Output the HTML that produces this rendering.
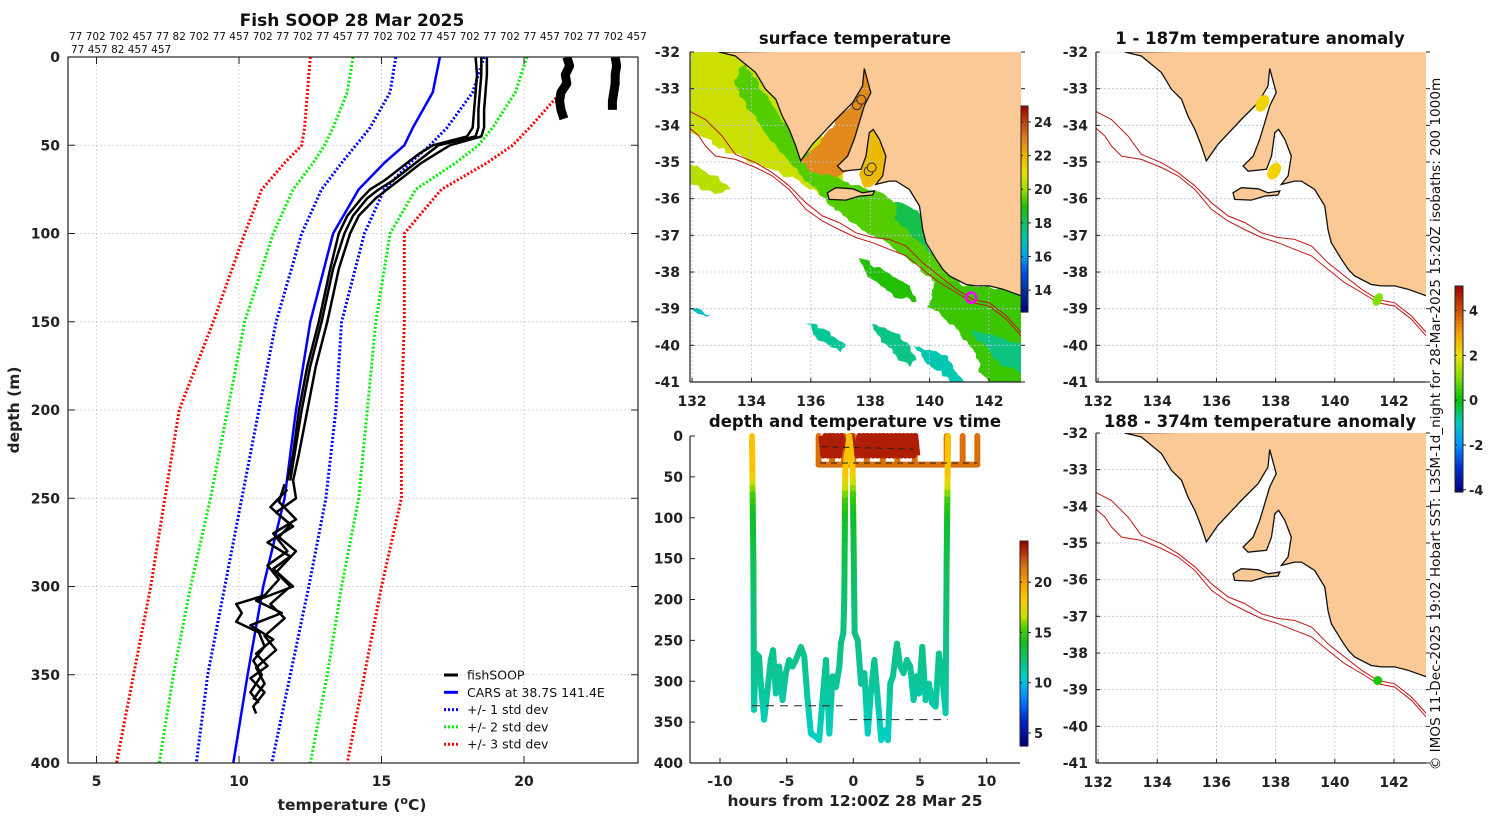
<!DOCTYPE html>
<html><head><meta charset="utf-8"><title>Fish SOOP 28 Mar 2025</title>
<style>
html,body{margin:0;padding:0;background:#fff;}
svg{display:block;font-family:"DejaVu Sans","Liberation Sans",sans-serif;}
</style></head>
<body>
<svg id="fig" width="1500" height="820" viewBox="0 0 1500 820" xmlns="http://www.w3.org/2000/svg">
<defs>
<filter id="rough" x="-10%" y="-10%" width="120%" height="120%">
<feTurbulence type="fractalNoise" baseFrequency="0.09" numOctaves="2" seed="3" result="n"/>
<feDisplacementMap in="SourceGraphic" in2="n" scale="10" xChannelSelector="R" yChannelSelector="G"/>
</filter>
<clipPath id="cpProf"><rect x="68" y="57" width="570" height="706"/></clipPath>
<clipPath id="cpTime"><rect x="690" y="430" width="330" height="333"/></clipPath>
<clipPath id="cpM1"><rect x="690" y="52" width="331" height="330"/></clipPath>
<clipPath id="cpM2"><rect x="1096" y="52" width="330" height="330"/></clipPath>
<clipPath id="cpM3"><rect x="1096" y="433" width="330" height="330"/></clipPath>
</defs>
</svg>
<script>
// ---------------- DATA ----------------
const carsDepth = [0,20,40,50,60,75,100,150,200,250,300,350,400];
const carsMean  = [17.05,16.8,16.1,15.8,15.1,14.2,13.3,12.5,12.0,11.6,10.85,10.3,9.8];
const std1Lo = [15.5,15.3,14.6,14.1,13.6,12.9,12.2,11.3,10.7,10.1,9.5,8.9,8.5];
const std1Hi = [18.6,18.2,17.3,16.7,16.0,15.1,14.4,13.6,13.4,13.05,12.45,11.8,11.15];
const std2Lo = [14.0,13.8,13.3,13.0,12.6,11.9,11.2,10.2,9.6,9.0,8.3,7.7,7.2];
const std2Hi = [20.1,19.7,18.9,18.4,17.6,16.2,15.3,14.8,14.5,14.2,13.6,13.1,12.5];
const std3Lo = [12.5,12.4,12.3,12.2,11.6,10.8,10.2,9.1,7.9,7.4,6.9,6.3,5.7];
const std3Hi = [21.6,21.3,20.2,19.6,18.7,17.1,15.8,15.8,15.7,15.7,15.0,14.4,13.8];
const fishDepth = [0,10,20,30,40,45,50,55,60,65,70,75,80,90,100,120,150,175,200,225,240];
const fishP1 = [18.7,18.7,18.65,18.6,18.6,18.5,17.4,16.9,16.4,16.0,15.6,15.2,14.8,14.2,13.9,13.5,13.1,12.7,12.4,12.1,11.9];
const fishP2 = [18.5,18.5,18.45,18.4,18.4,18.3,17.0,16.6,16.2,15.8,15.4,14.9,14.5,14.0,13.7,13.3,12.9,12.5,12.2,11.95,11.8];
const fishP3 = [18.3,18.35,18.3,18.25,18.2,18.0,16.8,16.3,15.9,15.5,15.1,14.6,14.3,13.8,13.5,13.2,12.8,12.4,12.1,11.9,11.7];
const zigDepthA = [240,250,258,266,275,283,290,300,308,315,322,330,338,345,352,360,368,372];
const zigTempA  = [11.9,12.0,11.3,11.9,11.0,11.8,11.2,11.9,10.6,11.5,10.4,11.2,10.6,11.0,10.4,10.9,10.5,10.6];
const zigDepthB = [242,252,262,270,280,288,296,305,310,315,320,326,334,342,350,360,366];
const zigTempB  = [11.6,11.4,12.0,11.2,11.7,11.0,11.4,10.9,9.9,10.1,9.9,10.7,10.9,10.5,10.8,10.4,10.7];
const zigDepthC = [245,255,265,272,280,292,300,310,318,328,336,346,355,364];
const zigTempC  = [11.7,11.1,11.8,11.4,12.0,11.3,11.8,11.1,11.6,10.9,11.3,10.6,10.9,10.5];
const shallowDepth = [0,5,10,15,20,25,30,35];
const shallowTempA = [21.5,21.6,21.45,21.5,21.3,21.25,21.3,21.4];
const shallowTempB = [23.2,23.25,23.2,23.2,23.15,23.1,23.1,23.1];
const deepHours = [-7.6,-7.5,-7.45,-7.32,-7.07,-6.94,-6.69,-6.44,-6.19,-6.02,-5.81,-5.56,-5.31,-5.06,-4.81,-4.56,-4.31,-3.93,-3.68,-3.43,-3.18,-2.81,-2.56,-2.31,-2.05,-1.8,-1.55,-1.3,-1.05,-0.93,-0.75,-0.68,-0.6,-0.3,-0.05,0.1,0.33,0.58,0.83,1.08,1.33,1.58,1.84,2.09,2.34,2.59,2.77,2.97,3.27,3.52,3.77,4.02,4.27,4.52,4.72,4.92,5.17,5.42,5.67,5.92,6.17,6.42,6.72,6.92,7.0,7.1];
const deepDepth = [0,150,335,266,270,303,347,311,274,262,315,282,323,290,274,282,274,258,270,323,364,368,372,323,274,364,294,307,282,254,241,200,40,0,40,241,250,303,290,364,311,274,323,372,360,372,303,294,254,282,290,274,282,323,294,315,258,323,303,327,331,266,303,339,150,0];
const castHours = [-2.6,-1.6,-0.7,0.0,1.0,2.2,3.3,4.6,7.0,8.2,9.3];
const castBottom = 35;
const redHours = [-2.4,-2.25,-2.1,-1.95,-1.8,-1.65,-1.5,-1.35,-1.2,-1.05,-0.9,-0.3,-0.15,0.3,0.45,0.6,0.75,0.9,1.05,1.2,1.35,1.5,1.65,1.8,1.95,2.1,2.25,2.4,2.55,2.7,2.85,3.0,3.15,3.3,3.45,3.6,3.75,3.9,4.05,4.2,4.35,4.5,4.65,4.8];
const redDepth = [0,24,0,24,0,24,0,24,0,24,0,24,0,24,0,24,0,24,0,24,0,24,0,24,0,24,0,24,0,24,0,24,0,24,0,24,0,24,0,24,0,24,0,24];
const colourDepth = [0,45,75,100,150,200,250,300,350,380];
const colourTemp  = [18.6,18.4,15.1,13.8,13.0,12.3,11.9,11.5,10.8,10.4];
const profXTicks = [5,10,15,20];
const profYTicks = [0,50,100,150,200,250,300,350,400];
const timeXTicks = [-10,-5,0,5,10];
const lonTicks = [132,134,136,138,140,142];
const latTicks = [-32,-33,-34,-35,-36,-37,-38,-39,-40,-41];
const coastLon = [132.9,133.46,134.14,134.48,134.82,135.04,135.27,135.49,135.66,136.05,136.84,137.41,137.74,137.80,138.02,137.80,137.63,137.46,137.24,136.90,137.07,137.69,137.86,137.97,138.10,138.31,138.53,138.42,138.19,138.64,138.87,139.32,139.66,139.77,139.88,140.22,140.45,140.67,141.23,141.57,142.02,142.47,143.09,143.2,143.2];
const coastLat = [-32.0,-32.11,-32.56,-33.02,-33.29,-33.75,-34.11,-34.56,-34.97,-34.52,-33.84,-33.38,-32.93,-32.45,-33.11,-33.47,-33.93,-34.38,-34.84,-35.11,-35.25,-35.20,-34.84,-34.20,-34.11,-34.38,-34.84,-35.38,-35.61,-35.52,-35.52,-35.75,-36.20,-36.84,-37.20,-37.65,-37.93,-38.11,-38.34,-38.38,-38.38,-38.47,-38.65,-38.65,-31.9];
const kiLon = [136.56,136.84,137.41,137.74,138.14,138.08,137.63,137.18,136.62];
const kiLat = [-35.84,-35.70,-35.73,-35.84,-35.79,-35.90,-35.93,-36.04,-36.02];
const iso200Lon = [131.9,132.45,133.01,133.46,134.14,134.70,135.27,135.83,136.39,136.95,137.52,138.08,138.64,139.21,139.77,140.33,140.90,141.46,142.02,142.59,143.09];
const iso200Lat = [-33.61,-33.84,-34.29,-34.79,-35.02,-35.29,-35.65,-36.11,-36.47,-36.65,-36.93,-37.06,-37.11,-37.29,-37.75,-38.11,-38.47,-38.75,-38.84,-39.20,-39.65];
const iso1000Lon = [131.9,132.23,132.45,132.79,133.46,134.14,134.70,135.27,135.83,136.39,136.95,137.52,138.08,138.64,139.21,139.77,140.33,140.90,141.46,142.02,142.59,143.09];
const iso1000Lat = [-34.06,-34.29,-34.56,-34.84,-34.93,-35.15,-35.38,-35.75,-36.29,-36.61,-36.84,-37.06,-37.20,-37.38,-37.56,-37.93,-38.29,-38.56,-38.84,-38.93,-39.29,-39.75];
const tStops = [[4,'#00007f'],[6,'#0020c0'],[8,'#0070ff'],[9.5,'#00b0f0'],[10.5,'#00d0c8'],[12,'#10c080'],[14,'#10c020'],[15.5,'#50d000'],[16.5,'#c0e000'],[18,'#f8d000'],[20,'#f8a000'],[22,'#d06010'],[24,'#a00000']];
const sstStops = [[12.7,'#00007f'],[14,'#0030a0'],[15,'#0050e0'],[16,'#00a0f0'],[17,'#00c8b0'],[18,'#10c060'],[19,'#20c000'],[20,'#a0e000'],[21,'#e8e000'],[22,'#f0b000'],[23,'#e08020'],[24,'#c04010'],[25,'#a00000']];
const anoStops = [[-4.1,'#00007f'],[-3,'#0030d0'],[-2,'#0090ff'],[-1,'#00c8c0'],[0,'#00c000'],[1,'#80e000'],[2,'#f0e000'],[3,'#f0a000'],[4,'#d05000'],[5.1,'#a00000']];

// ---------------- HELPERS ----------------
const NS='http://www.w3.org/2000/svg';
const svg=document.getElementById('fig');
function mk(tag,attrs,parent){const e=document.createElementNS(NS,tag);for(const k in attrs)e.setAttribute(k,attrs[k]);(parent||svg).appendChild(e);return e;}
function txt(x,y,s,attrs,parent){const e=mk('text',Object.assign({x:x,y:y,fill:'#222'},attrs||{}),parent);e.textContent=s;return e;}
function interp(xs,ys,v){if(v<=xs[0])return ys[0];for(let i=1;i<xs.length;i++){if(v<=xs[i]){const f=(v-xs[i-1])/(xs[i]-xs[i-1]);return ys[i-1]+f*(ys[i]-ys[i-1]);}}return ys[ys.length-1];}
function hex2rgb(h){return [parseInt(h.substr(1,2),16),parseInt(h.substr(3,2),16),parseInt(h.substr(5,2),16)];}
function cmap(stops,v){if(v<=stops[0][0])return stops[0][1];for(let i=1;i<stops.length;i++){if(v<=stops[i][0]){const f=(v-stops[i-1][0])/(stops[i][0]-stops[i-1][0]);const a=hex2rgb(stops[i-1][1]),b=hex2rgb(stops[i][1]);return 'rgb('+a.map((c,j)=>Math.round(c+f*(b[j]-c))).join(',')+')';}}return stops[stops.length-1][1];}
function pts(xs,ys,fx,fy){return xs.map((v,i)=>fx(v).toFixed(1)+','+fy(ys[i]).toFixed(1)).join(' ');}
function colorbar(x,y,w,h,stops,vmin,vmax,ticks,name){
  const g=mk('g',{});
  
  
  const n=60;
  for(let i=0;i<n;i++){const v=vmax-(i+0.5)/n*(vmax-vmin);mk('rect',{x:x,y:(y+i*h/n).toFixed(2),width:w,height:(h/n+0.6).toFixed(2),fill:cmap(stops,v)},g);}
  mk('rect',{x:x,y:y,width:w,height:h,fill:'none',stroke:'#222','stroke-width':1},g);
  ticks.forEach(t=>{const ty=y+(vmax-t)/(vmax-vmin)*h;mk('line',{x1:x+w,x2:x+w+3,y1:ty,y2:ty,stroke:'#222'},g);mk('line',{x1:x,x2:x+2,y1:ty,y2:ty,stroke:'#222'},g);txt(x+w+6,ty+5,String(t),{'font-size':13,'font-weight':'bold'},g);});
}

// ---------------- LEFT PROFILE PLOT ----------------
const PX0=68,PX1=638,PY0=57,PY1=763;
const px=t=>PX0+(t-4)/(24-4)*(PX1-PX0);
const py=d=>PY0+d/400*(PY1-PY0);
txt(352,26,'Fish SOOP 28 Mar 2025',{'font-size':17,'font-weight':'bold','text-anchor':'middle',fill:'#111',});
txt(69,40,'77 702 702 457 77 82 702 77 457 702 77 702 77 457 77 702 702 77 457 702 77 702 77 457 702 77 702 457',{'font-size':10.5,fill:'#111',});
txt(71,53,'77 457 82 457 457',{'font-size':10.5,fill:'#111',});
const gp=mk('g',{});


profXTicks.forEach(t=>{mk('line',{x1:px(t),x2:px(t),y1:PY0,y2:PY1,stroke:'#e8c8c0','stroke-width':0.8,'stroke-dasharray':'2,2'},gp);});
profYTicks.forEach(d=>{mk('line',{x1:PX0,x2:PX1,y1:py(d),y2:py(d),stroke:'#c8cce8','stroke-width':0.8,'stroke-dasharray':'2,2'},gp);});
const gpl=mk('g',{'clip-path':'url(#cpProf)'},gp);
function dotted(lo,col,name){const e=mk('polyline',{points:pts(lo,carsDepth,px,py),fill:'none',stroke:col,'stroke-width':3,'stroke-dasharray':'2,2'},gpl);}
dotted(std3Lo,'#ff0000','std3-low');dotted(std3Hi,'#ff0000','std3-high');
dotted(std2Lo,'#00ee00','std2-low');dotted(std2Hi,'#00ee00','std2-high');
dotted(std1Lo,'#0000ff','std1-low');dotted(std1Hi,'#0000ff','std1-high');
const cars=mk('polyline',{points:pts(carsMean,carsDepth,px,py),fill:'none',stroke:'#0000ff','stroke-width':2.5},gpl);


[fishP1,fishP2,fishP3].forEach((p,i)=>{const e=mk('polyline',{points:pts(p,fishDepth,px,py),fill:'none',stroke:'#000','stroke-width':2.5,'stroke-linejoin':'round'},gpl);});
[[zigTempA,zigDepthA],[zigTempB,zigDepthB],[zigTempC,zigDepthC]].forEach((z,i)=>{const e=mk('polyline',{points:pts(z[0],z[1],px,py),fill:'none',stroke:'#000','stroke-width':2.5,'stroke-linejoin':'round'},gpl);});
const sA=mk('polyline',{points:pts(shallowTempA,shallowDepth,px,py),fill:'none',stroke:'#000','stroke-width':9,'stroke-linejoin':'round'},gpl);


const sB=mk('polyline',{points:pts(shallowTempB,shallowDepth.slice(0,7),px,py),fill:'none',stroke:'#000','stroke-width':9,'stroke-linejoin':'round'},gpl);


mk('rect',{x:PX0,y:PY0,width:PX1-PX0,height:PY1-PY0,fill:'none',stroke:'#222','stroke-width':1.2},gp);
profXTicks.forEach(t=>{mk('line',{x1:px(t),x2:px(t),y1:PY1,y2:PY1-7,stroke:'#222'},gp);mk('line',{x1:px(t),x2:px(t),y1:PY0,y2:PY0+7,stroke:'#222'},gp);txt(px(t),786,String(t),{'font-size':14,'font-weight':'bold','text-anchor':'middle'},gp);});
profYTicks.forEach(d=>{mk('line',{x1:PX0,x2:PX0+7,y1:py(d),y2:py(d),stroke:'#222'},gp);mk('line',{x1:PX1,x2:PX1-7,y1:py(d),y2:py(d),stroke:'#222'},gp);txt(60,py(d)+5,String(d),{'font-size':14,'font-weight':'bold','text-anchor':'end'},gp);});
const xl=mk('text',{x:352,y:810,'font-size':15.5,'font-weight':'bold','text-anchor':'middle',fill:'#222',});
const ts1=mk('tspan',{},xl);ts1.textContent='temperature (';
const ts2=mk('tspan',{dy:-6,'font-size':11},xl);ts2.textContent='o';
const ts3=mk('tspan',{dy:6},xl);ts3.textContent='C)';
txt(19,410,'depth (m)',{'font-size':15.5,'font-weight':'bold','text-anchor':'middle',transform:'rotate(-90 19 410)',});
const leg=mk('g',{});


const legItems=[['fishSOOP','#000',''],['CARS at 38.7S 141.4E','#0000ff',''],['+/- 1 std dev','#0000ff','2,2'],['+/- 2 std dev','#00ee00','2,2'],['+/- 3 std dev','#ff0000','2,2']];
legItems.forEach((it,i)=>{const y=675+i*17.3;const ge=mk('g',{},leg);const a={x1:444,x2:458,y1:y,y2:y,stroke:it[1],'stroke-width':3};if(it[2])a['stroke-dasharray']=it[2];mk('line',a,ge);txt(467,y+4.5,it[0],{'font-size':12.5,fill:'#111'},ge);});

// ---------------- TIME PLOT ----------------
const TX0=690,TX1=1020,TY0=436,TY1=763;
const tx=h=>TX0+(h+12.25)/(12.5+12.25)*(TX1-TX0);
const ty=d=>TY0+d/400*(TY1-TY0);
txt(855,427,'depth and temperature vs time',{'font-size':16.5,'font-weight':'bold','text-anchor':'middle',fill:'#111',});
const gt=mk('g',{});


const gtl=mk('g',{'clip-path':'url(#cpTime)'},gt);
castHours.forEach(h=>{const e=mk('line',{x1:tx(h),x2:tx(h),y1:ty(0),y2:ty(castBottom),stroke:cmap(tStops,21.5),'stroke-width':6,'stroke-linecap':'round'},gtl);});
mk('line',{x1:tx(castHours[0]),x2:tx(castHours[castHours.length-1]),y1:ty(castBottom),y2:ty(castBottom),stroke:cmap(tStops,21.5),'stroke-width':6,'stroke-linecap':'round'},gtl);
const rp=mk('polyline',{points:pts(redHours,redDepth,tx,ty),fill:'none',stroke:cmap(tStops,23.4),'stroke-width':6,'stroke-linejoin':'round'},gtl);


for(let i=1;i<deepHours.length;i++){
  const d0=deepDepth[i-1],d1=deepDepth[i],h0=deepHours[i-1],h1=deepHours[i];
  const steps=Math.max(1,Math.ceil(Math.abs(d1-d0)/8));
  for(let s=0;s<steps;s++){
    const fa=s/steps,fb=(s+1)/steps;
    const da=d0+fa*(d1-d0),db=d0+fb*(d1-d0);
    const e=mk('line',{x1:tx(h0+fa*(h1-h0)),y1:ty(da),x2:tx(h0+fb*(h1-h0)),y2:ty(db),stroke:cmap(tStops,interp(colourDepth,colourTemp,(da+db)/2)),'stroke-width':6,'stroke-linecap':'round'},gtl);
    
    
  }
}
mk('line',{x1:tx(-7.6),x2:tx(-0.8),y1:ty(330),y2:ty(330),stroke:'#222','stroke-dasharray':'8,6','stroke-width':1},gtl);
mk('line',{x1:tx(-0.3),x2:tx(7.1),y1:ty(347),y2:ty(347),stroke:'#222','stroke-dasharray':'8,6','stroke-width':1},gtl);
mk('line',{x1:tx(-2.4),x2:tx(4.5),y1:ty(13),y2:ty(16),stroke:'#222','stroke-dasharray':'6,5','stroke-width':1},gtl);
mk('line',{x1:tx(-2.5),x2:tx(9.3),y1:ty(33),y2:ty(33),stroke:'#222','stroke-dasharray':'6,5','stroke-width':1},gtl);
mk('line',{x1:TX0,x2:TX0,y1:TY0,y2:TY1,stroke:'#222','stroke-width':1.2},gt);
mk('line',{x1:TX0,x2:TX1,y1:TY1,y2:TY1,stroke:'#222','stroke-width':1.2},gt);
timeXTicks.forEach(h=>{mk('line',{x1:tx(h),x2:tx(h),y1:TY1,y2:TY1-5,stroke:'#222'},gt);txt(tx(h),786,String(h),{'font-size':14,'font-weight':'bold','text-anchor':'middle'},gt);});
profYTicks.forEach(d=>{mk('line',{x1:TX0,x2:TX0+5,y1:ty(d),y2:ty(d),stroke:'#222'},gt);txt(683,ty(d)+5,String(d),{'font-size':14,'font-weight':'bold','text-anchor':'end'},gt);});
txt(855,806,'hours from 12:00Z 28 Mar 25',{'font-size':15.5,'font-weight':'bold','text-anchor':'middle',});
colorbar(1020,541,8,205,tStops,3.7,24.1,[5,10,15,20],'time-colorbar');

// ---------------- MAPS ----------------
function drawMap(X0,Y0,X1,Y1,clip,name,drawField,labelX){
  const mx=lon=>X0+(lon-131.93)/(143.08-131.93)*(X1-X0);
  const my=lat=>Y0+(-32-lat)/9*(Y1-Y0);
  const g=mk('g',{});
  
  
  const gi=mk('g',{'clip-path':'url(#'+clip+')'},g);
  if(drawField)drawField(gi,mx,my);
  lonTicks.forEach(l=>mk('line',{x1:mx(l),x2:mx(l),y1:Y0,y2:Y1,stroke:'#b8c0e0','stroke-width':0.8,'stroke-dasharray':'2,2'},gi));
  latTicks.forEach(l=>mk('line',{x1:X0,x2:X1,y1:my(l),y2:my(l),stroke:'#b8c0e0','stroke-width':0.8,'stroke-dasharray':'2,2'},gi));
  const land=mk('polygon',{points:pts(coastLon,coastLat,mx,my),fill:'#fbc995',stroke:'#111','stroke-width':1.3},gi);
  
  
  const ki=mk('polygon',{points:pts(kiLon,kiLat,mx,my),fill:'#fbc995',stroke:'#111','stroke-width':1.3},gi);
  
  
  const i2=mk('polyline',{points:pts(iso200Lon,iso200Lat,mx,my),fill:'none',stroke:'#c01818','stroke-width':1},gi);
  
  
  const i1=mk('polyline',{points:pts(iso1000Lon,iso1000Lat,mx,my),fill:'none',stroke:'#c01818','stroke-width':1},gi);
  
  
  mk('line',{x1:X0,x2:X0,y1:Y0,y2:Y1,stroke:'#222','stroke-width':1.2},g);
  mk('line',{x1:X0,x2:X1,y1:Y1,y2:Y1,stroke:'#222','stroke-width':1.2},g);
  lonTicks.forEach(l=>{mk('line',{x1:mx(l),x2:mx(l),y1:Y1,y2:Y1-4,stroke:'#222'},g);txt(mx(l),Y1+24,String(l),{'font-size':14,'font-weight':'bold','text-anchor':'middle'},g);});
  latTicks.forEach(l=>{mk('line',{x1:X0,x2:X0+4,y1:my(l),y2:my(l),stroke:'#222'},g);mk('line',{x1:X1,x2:X1+4,y1:my(l),y2:my(l),stroke:'#222'},g);txt(labelX,my(l)+5,String(l),{'font-size':14,'font-weight':'bold','text-anchor':'end'},g);});
  return {mx:mx,my:my,g:g};
}
const sstPatches=[
 {t:20.6,lon:[131.9,135,136.5,137.3,137.5,136.5,135.5,134,133,131.9],lat:[-31.9,-31.9,-34.5,-35.8,-36.2,-36.0,-35.5,-35.0,-34.6,-34.2]},
 {t:20.3,lon:[131.9,132.6,133.3,132.8,131.9],lat:[-35.0,-35.3,-35.7,-35.9,-35.6]},
 {t:19.4,lon:[133.8,135.3,136,137,138.5,139.7,139.9,140.5,141,140.3,139.2,138.6,137.6,136.8,136.2,135.5,134.6,133.8,133.4],lat:[-32.3,-34.2,-34.9,-35.5,-35.9,-36.4,-37.3,-37.9,-38.3,-38.3,-37.6,-37.2,-36.8,-36.3,-35.8,-35.2,-34.4,-33.4,-32.7]},
 {t:18.2,lon:[138.8,139.8,139.9,140.2,139.4,138.9],lat:[-36.0,-36.4,-37.2,-37.6,-37.0,-36.6]},
 {t:22.8,lon:[135.7,136.2,137,137.6,137.8,138.1,137.7,137.4,136.9,136],lat:[-35.0,-34.5,-33.8,-33.2,-32.4,-33.2,-34.3,-35.0,-35.4,-35.3]},
 {t:21.8,lon:[137.6,137.9,138.1,138.6,138.5,137.8],lat:[-35.3,-34.3,-34.0,-34.8,-35.5,-35.7]},
 {t:19.2,lon:[140.2,141.2,143.2,143.2,142,141.5,140.8,140.0],lat:[-38.2,-38.35,-38.5,-41.1,-41.1,-40.2,-39.5,-38.9]},
 {t:19.0,lon:[137.6,138.3,139.3,139.6,138.9,138.0],lat:[-37.6,-37.9,-38.4,-38.8,-38.7,-38.2]},
 {t:17.3,lon:[135.8,136.6,137.2,137.0,136.3],lat:[-39.4,-39.6,-40.0,-40.2,-39.8]},
 {t:17.5,lon:[138.0,139.0,139.6,139.3,138.5],lat:[-39.4,-39.7,-40.4,-40.6,-40.0]},
 {t:17.0,lon:[139.5,140.6,141.2,141.0,140.0],lat:[-40.0,-40.3,-41.1,-41.1,-40.6]},
 {t:17.6,lon:[141.4,142.4,143.2,143.2,142.2],lat:[-39.6,-39.8,-40.0,-40.8,-40.4]},
 {t:16.8,lon:[131.9,132.3,132.6,132.2],lat:[-38.9,-39.0,-39.2,-39.2]}
];
const sstPoints=[{lon:137.55,lat:-33.45,t:22.8},{lon:137.7,lat:-33.3,t:22.8},{lon:137.95,lat:-35.25,t:21.8},{lon:138.05,lat:-35.15,t:21.8}];
drawMap(690,52,1021,382,'cpM1','sst-map',function(gi,mx,my){
  const gf=mk('g',{filter:'url(#rough)'},gi);
  sstPatches.forEach(p=>{const e=mk('polygon',{points:pts(p.lon,p.lat,mx,my),fill:cmap(sstStops,p.t),stroke:'none'},gf);});
},680);
const m1pts=mk('g',{});


(function(){const mx=lon=>690+(lon-131.93)/(143.08-131.93)*331,my=lat=>52+(-32-lat)/9*330;
 sstPoints.forEach(p=>mk('circle',{cx:mx(p.lon),cy:my(p.lat),r:4.5,fill:cmap(sstStops,p.t),stroke:'#333','stroke-width':1},m1pts));
 mk('circle',{cx:mx(141.4),cy:my(-38.7),r:5,fill:'none',stroke:'#ff00ff','stroke-width':2.5},m1pts);})();
txt(855,44,'surface temperature',{'font-size':16.5,'font-weight':'bold','text-anchor':'middle',fill:'#111',});
colorbar(1021,106,7,206,sstStops,12.7,24.95,[14,16,18,20,22,24],'sst-colorbar');

const anomTop=[{lon:137.55,lat:-33.4,a:2.2,r:6},{lon:137.95,lat:-35.25,a:2.2,r:6},{lon:141.45,lat:-38.75,a:1.0,r:4.5}];
const anomBottom=[{lon:141.45,lat:-38.75,a:0.2,r:4.5}];
const M2=drawMap(1096,52,1426,382,'cpM2','anomaly-map-shallow',null,1088);
anomTop.forEach(p=>{const e=mk('ellipse',{cx:M2.mx(p.lon),cy:M2.my(p.lat),rx:p.r,ry:p.r*1.5,fill:cmap(anoStops,p.a),transform:'rotate(30 '+M2.mx(p.lon)+' '+M2.my(p.lat)+')'},M2.g);});
txt(1260,44,'1 - 187m temperature anomaly',{'font-size':16.5,'font-weight':'bold','text-anchor':'middle',fill:'#111',});
const M3=drawMap(1096,433,1426,763,'cpM3','anomaly-map-deep',null,1088);
anomBottom.forEach(p=>{const e=mk('circle',{cx:M3.mx(p.lon),cy:M3.my(p.lat),r:p.r,fill:cmap(anoStops,p.a)},M3.g);});
txt(1260,427,'188 - 374m temperature anomaly',{'font-size':16.5,'font-weight':'bold','text-anchor':'middle',fill:'#111',});
colorbar(1455,286,8,206,anoStops,-4.1,5.1,[-4,-2,0,2,4],'anomaly-colorbar');
txt(1440,424,'© IMOS 11-Dec-2025 19:02 Hobart SST: L3SM-1d_night for 28-Mar-2025 15:20Z isobaths: 200  1000m',{'font-size':13.6,fill:'#111','text-anchor':'middle',transform:'rotate(-90 1440 424)',});
</script>
</body></html>
